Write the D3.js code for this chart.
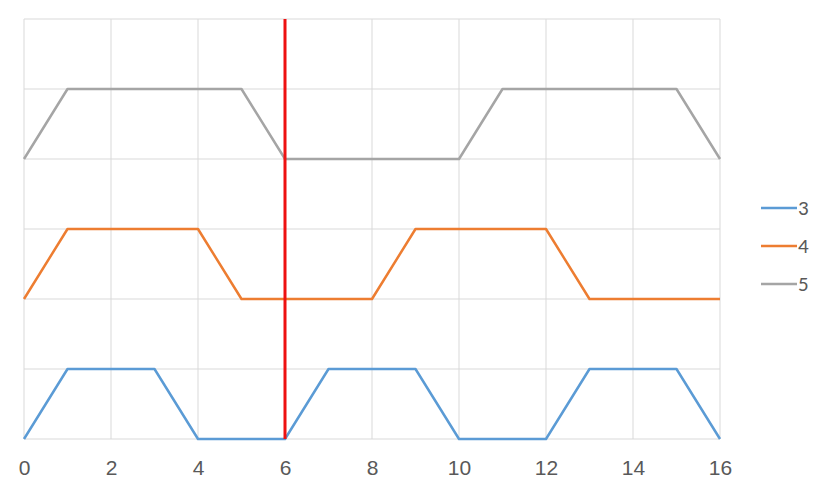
<!DOCTYPE html>
<html><head><meta charset="utf-8">
<script src="https://cdn.jsdelivr.net/npm/d3@7"></script>
<style>body{margin:0;background:#fff;}svg{display:block;font-family:Calibri,Carlito,"Open Sans",sans-serif;}</style>
</head><body><svg id="c" width="826" height="493"></svg>
<script>
const seriesNames = ["3","4","5"];
const seriesColors = ["#5b9bd5","#ed7d31","#a5a5a5"];
const xs3 = [0,1,3,4,6,7,9,10,12,13,15,16];
const ys3 = [0,1,1,0,0,1,1,0,0,1,1,0];
const xs4 = [0,1,4,5,8,9,12,13,16];
const ys4 = [2,3,3,2,2,3,3,2,2];
const xs5 = [0,1,5,6,10,11,15,16];
const ys5 = [4,5,5,4,4,5,5,4];
const xTicks = [0,2,4,6,8,10,12,14,16];
const yGrid = [0,1,2,3,4,5,6];
const markerX = 6;

const svg = d3.select("#c");
const x = d3.scaleLinear().domain([0,16]).range([24,720]);
const y = d3.scaleLinear().domain([0,6]).range([439,19]);

const g = svg.append("g");
g.selectAll("line.vg").data(xTicks).join("line")
 .attr("x1",d=>x(d)).attr("x2",d=>x(d)).attr("y1",y(0)).attr("y2",y(6))
 .attr("stroke","#d9d9d9").attr("stroke-width",1);
g.selectAll("line.hg").data(yGrid).join("line")
 .attr("x1",x(0)).attr("x2",x(16)).attr("y1",d=>y(d)).attr("y2",d=>y(d))
 .attr("stroke","#d9d9d9").attr("stroke-width",1);

const xAxis = d3.axisBottom(x).tickValues(xTicks).tickSize(0).tickPadding(0);
const ax = svg.append("g").attr("transform",`translate(0,${y(0)})`).call(xAxis);
ax.select(".domain").remove();
ax.selectAll("text").attr("fill","#595959").style("font-size","21px")
  .attr("y",29).attr("dy","0.35em");

const data = [
  xs3.map((v,i)=>[v,ys3[i]]),
  xs4.map((v,i)=>[v,ys4[i]]),
  xs5.map((v,i)=>[v,ys5[i]])
];
const line = d3.line().x(d=>x(d[0])).y(d=>y(d[1]));
svg.selectAll("path.s").data(data).join("path")
 .attr("d",line).attr("fill","none")
 .attr("stroke",(d,i)=>seriesColors[i]).attr("stroke-width",2.5)
 .attr("stroke-linejoin","round");

svg.append("line").attr("x1",x(markerX)).attr("x2",x(markerX))
 .attr("y1",y(0)).attr("y2",y(6)).attr("stroke","#ee1111").attr("stroke-width",3);

const legY = [208,246,284];
const leg = svg.selectAll("g.leg").data(seriesNames).join("g")
 .attr("transform",(d,i)=>`translate(0,${legY[i]})`);
leg.append("line").attr("x1",761).attr("x2",797).attr("y1",0).attr("y2",0)
 .attr("stroke",(d,i)=>seriesColors[i]).attr("stroke-width",2.5);
leg.append("text").attr("x",798).attr("y",0).attr("dy","0.35em")
 .attr("fill","#595959").style("font-size","21px").text(d=>d);
</script></body></html>
